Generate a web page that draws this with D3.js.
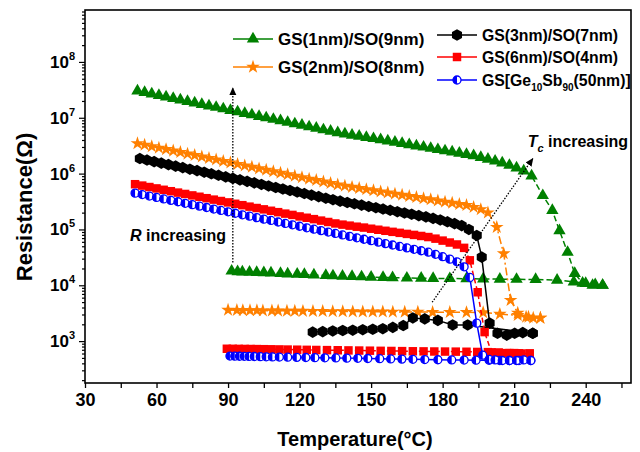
<!DOCTYPE html>
<html>
<head>
<meta charset="utf-8">
<script src="https://cdn.jsdelivr.net/npm/d3@7"></script>
<style>
  body { margin: 0; background: #fff; }
  svg text { font-family: "Liberation Sans", Arial, sans-serif; font-weight: bold; }
</style>
</head>
<body>
<div id="chart"></div>
<script>
// axis ticks
var tempTicks = [30, 60, 90, 120, 150, 180, 210, 240];
var tempMinor = [45, 75, 105, 135, 165, 195, 225, 255];
var resTicks = [1e3, 1e4, 1e5, 1e6, 1e7, 1e8];

// GS(1nm)/SO(9nm)
var g1HeatT = [52,55,58,61,64,67,70,73,76,79,82,85,88,91,94,97,100,103,106,109,112,115,118,121,124,127,130,133,136,139,142,145,148,151,154,157,160,163,166,169,172,175,178,181,184,187,190,193,196,199,202,205,208,211,214,217.3,222,226,229,232.4,235.4,238.7,242.9,247.1];
var g1HeatR = [3.02e7,2.84e7,2.67e7,2.51e7,2.36e7,2.22e7,2.09e7,1.96e7,1.85e7,1.74e7,1.63e7,1.54e7,1.45e7,1.36e7,1.28e7,1.2e7,1.13e7,1.06e7,1.0e7,9.4e6,8.85e6,8.3e6,7.8e6,7.35e6,6.9e6,6.5e6,6.1e6,5.75e6,5.4e6,5.15e6,4.9e6,4.68e6,4.46e6,4.25e6,4.05e6,3.85e6,3.66e6,3.48e6,3.3e6,3.14e6,2.99e6,2.84e6,2.7e6,2.56e6,2.44e6,2.32e6,2.2e6,2.09e6,1.95e6,1.82e6,1.68e6,1.55e6,1.41e6,1.26e6,1.12e6,9.1e5,4.05e5,2.2e5,9.5e4,3.9e4,1.63e4,1.09e4,1.0e4,1.0e4];
var g1CoolT = [91.5,94,96,99,102,105,108,112,115,119,122,126,131,134,138,142,146,150,155,159,165,171,176,183,190,197,204,211,219,228,235,240,244,247.1];
var g1CoolR = [1.8e4,1.76e4,1.74e4,1.72e4,1.7e4,1.68e4,1.66e4,1.63e4,1.6e4,1.58e4,1.56e4,1.53e4,1.5e4,1.48e4,1.46e4,1.44e4,1.42e4,1.4e4,1.38e4,1.37e4,1.35e4,1.34e4,1.33e4,1.32e4,1.31e4,1.3e4,1.29e4,1.28e4,1.27e4,1.24e4,1.15e4,1.08e4,1.03e4,1.0e4];

// GS(2nm)/SO(8nm)
var g2HeatT = [52,55,58,61,64,67,70,73,76,79,82,85,88,91,94,97,100,103,106,109,112,115,118,121,124,127,130,133,136,139,142,145,148,151,154,157,160,163,166,169,172,175,178,181,184,187,190,193,196,199,202.7,205.6,208.5,211.5,215,218,221];
var g2HeatR = [3.47e6,3.27e6,3.07e6,2.89e6,2.72e6,2.56e6,2.41e6,2.26e6,2.13e6,2.0e6,1.89e6,1.78e6,1.67e6,1.57e6,1.48e6,1.39e6,1.31e6,1.23e6,1.16e6,1.09e6,1.03e6,9.68e5,9.1e5,8.57e5,8.05e5,7.59e5,7.14e5,6.71e5,6.31e5,6.03e5,5.74e5,5.48e5,5.22e5,4.99e5,4.76e5,4.54e5,4.34e5,4.13e5,3.94e5,3.77e5,3.59e5,3.43e5,3.27e5,3.12e5,2.98e5,2.84e5,2.71e5,2.51e5,2.29e5,2.0e5,1.1e5,3.7e4,5.4e3,3.2e3,2.7e3,2.6e3,2.6e3];
var g2CoolT = [90,93.7,96.2,99.2,102.1,104.6,108.4,111,114.7,118,121.4,125.6,129.7,133.9,138.1,142.3,146.5,150.7,154.9,159.1,164.1,169.6,175.8,183,190,197,204,211.5,216,221];
var g2CoolR = [3.6e3,3.58e3,3.56e3,3.55e3,3.54e3,3.52e3,3.5e3,3.49e3,3.48e3,3.46e3,3.45e3,3.44e3,3.42e3,3.41e3,3.4e3,3.38e3,3.37e3,3.36e3,3.35e3,3.34e3,3.33e3,3.32e3,3.3e3,3.3e3,3.28e3,3.25e3,3.05e3,2.9e3,2.7e3,2.6e3];

// GS(3nm)/SO(7nm)
var g3HeatT = [53,56,59,62,65,68,71,74,77,80,83,86,89,92,95,98,101,104,107,110,113,116,119,122,125,128,131,134,137,140,143,146,149,152,155,158,161,164,167,170,173,176,179,182,185,188,191,194.3,196.4,199.7,203,206.9,210.2,213.6,217.8];
var g3HeatR = [1.86e6,1.75e6,1.64e6,1.54e6,1.45e6,1.36e6,1.28e6,1.2e6,1.13e6,1.06e6,9.93e5,9.33e5,8.75e5,8.22e5,7.73e5,7.26e5,6.81e5,6.4e5,6.01e5,5.64e5,5.3e5,4.98e5,4.67e5,4.39e5,4.12e5,3.87e5,3.63e5,3.41e5,3.21e5,3.04e5,2.88e5,2.73e5,2.58e5,2.45e5,2.32e5,2.2e5,2.08e5,1.97e5,1.87e5,1.77e5,1.68e5,1.58e5,1.48e5,1.37e5,1.27e5,1.17e5,1.0e5,7.8e4,3.2e4,2.1e3,1.38e3,1.28e3,1.38e3,1.42e3,1.38e3];
var g3CoolT = [125.5,129.7,133.9,138.1,142.3,146.5,150.7,154.9,159.1,163.5,167.5,172.5,178,184.2,190.5,217.8];
var g3CoolR = [1.45e3,1.48e3,1.52e3,1.55e3,1.57e3,1.6e3,1.63e3,1.67e3,1.76e3,1.9e3,2.6e3,2.5e3,2.35e3,1.95e3,1.95e3,1.38e3];

// GS(6nm)/SO(4nm)
var g6HeatT = [51,54,57,60,63,66,69,72,75,78,81,84,87,90,93,96,99,102,105,108,111,114,117,120,123,126,129,132,135,138,141,144,147,150,153,156,159,162,165,168,171,174,177,180,183,186,189,191.4,194.7,197.6,200.5,203.5,207,210,213,216.5];
var g6HeatR = [6.46e5,6.1e5,5.75e5,5.43e5,5.13e5,4.84e5,4.57e5,4.32e5,4.07e5,3.85e5,3.63e5,3.42e5,3.23e5,3.05e5,2.88e5,2.72e5,2.56e5,2.42e5,2.29e5,2.16e5,2.04e5,1.92e5,1.82e5,1.71e5,1.62e5,1.53e5,1.44e5,1.36e5,1.28e5,1.22e5,1.17e5,1.12e5,1.08e5,1.03e5,9.88e4,9.46e4,9.06e4,8.69e4,8.32e4,7.98e4,7.64e4,7.31e4,6.84e4,6.31e4,5.83e4,5.38e4,4.68e4,2.8e4,7.5e3,1.45e3,6.3e2,6.2e2,6.1e2,6.1e2,6.0e2,6.0e2];
var g6CoolT = [89.5,92,94.5,97,99.5,102,105,108,111.5,115,119,123,127,131.5,136,140.5,145,149.5,154,158.5,163,167.5,172,176.5,181,185.5,190,194.5,199,203.5,208,212,216.5];
var g6CoolR = [7.3e2,7.28e2,7.26e2,7.24e2,7.22e2,7.2e2,7.17e2,7.14e2,7.1e2,7.06e2,7.02e2,6.98e2,6.94e2,6.9e2,6.86e2,6.82e2,6.78e2,6.74e2,6.7e2,6.66e2,6.62e2,6.58e2,6.55e2,6.52e2,6.5e2,6.48e2,6.45e2,6.4e2,6.35e2,6.2e2,6.1e2,6.05e2,6.0e2];

// GS[Ge10Sb90(50nm)]
var g50HeatT = [51,54,57,60,63,66,69,72,75,78,81,84,87,90,93,96,99,102,105,108,111,114,117,120,123,126,129,132,135,138,141,144,147,150,153,156,159,162,165,168,171,174,177,180,183,186,189,191.4,194.3,196.8,199.5,202,205,208,211,214,217];
var g50HeatR = [4.47e5,4.21e5,3.96e5,3.74e5,3.52e5,3.32e5,3.13e5,2.94e5,2.78e5,2.62e5,2.47e5,2.32e5,2.19e5,2.07e5,1.95e5,1.83e5,1.73e5,1.63e5,1.53e5,1.45e5,1.36e5,1.28e5,1.21e5,1.14e5,1.07e5,1.01e5,9.53e4,8.98e4,8.47e4,7.98e4,7.52e4,7.08e4,6.67e4,6.29e4,5.93e4,5.58e4,5.26e4,4.96e4,4.68e4,4.41e4,4.15e4,3.91e4,3.59e4,3.25e4,2.94e4,2.63e4,2.14e4,1.38e4,2.1e3,5.6e2,4.7e2,4.6e2,4.5e2,4.5e2,4.5e2,4.6e2,4.5e2];
var g50CoolT = [90.8,92.8,94.8,96.8,98.8,101,103.5,106,108.6,111.5,115,118.8,122.6,126.4,130.6,135.2,139.8,144.4,148.6,153.6,158.2,162.9,167.5,172.5,178,183.8,189,194,199.5,204,208,212,217];
var g50CoolR = [5.4e2,5.38e2,5.36e2,5.34e2,5.32e2,5.3e2,5.27e2,5.24e2,5.21e2,5.18e2,5.15e2,5.12e2,5.09e2,5.06e2,5.03e2,5.0e2,4.96e2,4.92e2,4.88e2,4.84e2,4.8e2,4.76e2,4.72e2,4.68e2,4.64e2,4.6e2,4.58e2,4.56e2,4.54e2,4.5e2,4.5e2,4.5e2,4.5e2];

var legendNames = ["GS(1nm)/SO(9nm)", "GS(2nm)/SO(8nm)", "GS(3nm)/SO(7nm)", "GS(6nm)/SO(4nm)", "GS[Ge_{10}Sb_{90}(50nm)]"];

var w = 640, h = 452;
var margin = {top: 10, right: 9, bottom: 69, left: 85};

var x = d3.scaleLinear().domain([30, 259]).range([margin.left, w - margin.right]);
var y = d3.scaleLog().domain([Math.pow(10, 2.25), Math.pow(10, 8.93)]).range([h - margin.bottom, margin.top]);

function pairs(ts, rs) {
  var n = Math.min(ts.length, rs.length);
  var out = [];
  for (var i = 0; i < n; i++) out.push([ts[i], rs[i]]);
  return out;
}

var series = [
  {name: legendNames[0], heat: pairs(g1HeatT, g1HeatR), cool: pairs(g1CoolT, g1CoolR), color: "#008000", shape: "triangle", dash: "6,3"},
  {name: legendNames[1], heat: pairs(g2HeatT, g2HeatR), cool: pairs(g2CoolT, g2CoolR), color: "#ff8000", shape: "star", dash: "8,3,2,3"},
  {name: legendNames[2], heat: pairs(g3HeatT, g3HeatR), cool: pairs(g3CoolT, g3CoolR), color: "#000000", shape: "hexagon", dash: null},
  {name: legendNames[3], heat: pairs(g6HeatT, g6HeatR), cool: pairs(g6CoolT, g6CoolR), color: "#ff0000", shape: "square", dash: "5,3"},
  {name: legendNames[4], heat: pairs(g50HeatT, g50HeatR), cool: pairs(g50CoolT, g50CoolR), color: "#0000ff", shape: "halfcircle", dash: null}
];

var svg = d3.select("#chart").append("svg")
  .attr("width", w)
  .attr("height", h);

svg.append("rect").attr("width", w).attr("height", h).attr("fill", "#fff");

var defs = svg.append("defs");
defs.append("marker")
  .attr("id", "arrow")
  .attr("viewBox", "0 0 10 10")
  .attr("refX", 9).attr("refY", 5)
  .attr("markerUnits", "userSpaceOnUse")
  .attr("markerWidth", 8).attr("markerHeight", 8)
  .attr("orient", "auto")
  .append("path")
  .attr("d", "M0,0.5 L10,5 L0,9.5 Z")
  .attr("fill", "#000");

function hexPath(r) {
  var pts = [];
  for (var k = 0; k < 6; k++) {
    var a = Math.PI / 180 * (-90 + 60 * k);
    pts.push([r * Math.cos(a), r * Math.sin(a)]);
  }
  return "M" + pts.map(function(p) { return p[0].toFixed(2) + "," + p[1].toFixed(2); }).join("L") + "Z";
}

function drawMarker(g, shape, color) {
  if (shape == "triangle") {
    g.append("path").attr("d", d3.symbol().type(d3.symbolTriangle).size(66)()).attr("fill", color);
  } else if (shape == "star") {
    g.append("path").attr("d", d3.symbol().type(d3.symbolStar).size(58)()).attr("fill", color);
  } else if (shape == "hexagon") {
    g.append("path").attr("d", hexPath(5.8)).attr("fill", color);
  } else if (shape == "square") {
    g.append("path").attr("d", d3.symbol().type(d3.symbolSquare).size(72)()).attr("fill", color);
  } else if (shape == "halfcircle") {
    g.append("circle").attr("r", 4).attr("fill", "#fff").attr("stroke", color).attr("stroke-width", 1.3);
    g.append("path").attr("d", "M0,-4 A4,4 0 0 0 0,4 Z").attr("fill", color);
  }
}

// axes
var xAxisG = svg.append("g")
  .attr("transform", "translate(0," + (h - margin.bottom) + ")");
xAxisG.call(d3.axisBottom(x).tickValues(tempMinor).tickSize(5).tickFormat(""));
xAxisG.append("g").call(d3.axisBottom(x).tickValues(tempTicks).tickSize(5).tickPadding(5).tickFormat(d3.format("d")));
xAxisG.selectAll(".domain").remove();
xAxisG.selectAll("line").attr("stroke", "#000").attr("stroke-width", 1.3);
xAxisG.selectAll("text")
  .attr("fill", "#000")
  .style("font-size", "18px");

var yMinor = [];
for (var k = 2; k <= 8; k++) {
  for (var m = 2; m <= 9; m++) {
    var v = m * Math.pow(10, k);
    if (v >= y.domain()[0] && v <= y.domain()[1]) yMinor.push(v);
  }
}

var yAxisG = svg.append("g").attr("transform", "translate(" + margin.left + ",0)");
yAxisG.call(d3.axisLeft(y).tickValues(yMinor).tickSize(3).tickFormat(""));
yAxisG.append("g").call(d3.axisLeft(y).tickValues(resTicks).tickSize(6).tickFormat(""));
yAxisG.selectAll(".domain").remove();
yAxisG.selectAll("line").attr("stroke", "#000").attr("stroke-width", 1.2);

resTicks.forEach(function(t) {
  var label = svg.append("text")
    .attr("x", margin.left - 10)
    .attr("y", y(t) + 6)
    .attr("text-anchor", "end")
    .attr("fill", "#000");
  label.append("tspan").style("font-size", "17px").text("10");
  label.append("tspan").style("font-size", "11px").attr("dy", -8).text(Math.round(Math.log10(t)));
});

// frame
svg.append("rect")
  .attr("x", margin.left)
  .attr("y", margin.top)
  .attr("width", w - margin.left - margin.right)
  .attr("height", h - margin.top - margin.bottom)
  .attr("fill", "none")
  .attr("stroke", "#000")
  .attr("stroke-width", 1.6);

// axis titles
svg.append("text")
  .attr("x", (margin.left + w - margin.right) / 2 - 3)
  .attr("y", 446)
  .attr("text-anchor", "middle")
  .style("font-size", "20px")
  .text("Temperature(\u00B0C)");

svg.append("text")
  .attr("transform", "translate(32,207) rotate(-90)")
  .attr("text-anchor", "middle")
  .style("font-size", "22px")
  .text("Resistance(\u03A9)");

// curves
var line = d3.line()
  .x(function(d) { return x(d[0]); })
  .y(function(d) { return y(d[1]); });

var plot = svg.append("g");

series.forEach(function(s) {
  plot.append("path")
    .datum(s.heat)
    .attr("d", line)
    .attr("fill", "none")
    .attr("stroke", s.color)
    .attr("stroke-width", 1.5)
    .attr("stroke-dasharray", s.dash);
  plot.append("path")
    .datum(s.cool)
    .attr("d", line)
    .attr("fill", "none")
    .attr("stroke", s.color)
    .attr("stroke-width", 1.5)
    .attr("stroke-dasharray", s.dash);

  s.cool.concat(s.heat).forEach(function(d) {
    var g = plot.append("g").attr("transform", "translate(" + x(d[0]) + "," + y(d[1]) + ")");
    drawMarker(g, s.shape, s.color);
  });
});

// annotations: arrows
var arrowR = {t: 92, from: 2.57e4, to: 3.4e7};
var arrowTc = {t1: 175.6, r1: 4.97e3, t2: 217.8, r2: 1.85e6};

svg.append("line")
  .attr("x1", x(arrowR.t)).attr("y1", y(arrowR.from))
  .attr("x2", x(arrowR.t)).attr("y2", y(arrowR.to))
  .attr("stroke", "#000")
  .attr("stroke-width", 1.3)
  .attr("stroke-dasharray", "1.5,1.5")
  .attr("marker-end", "url(#arrow)");

svg.append("line")
  .attr("x1", x(arrowTc.t1)).attr("y1", y(arrowTc.r1))
  .attr("x2", x(arrowTc.t2)).attr("y2", y(arrowTc.r2))
  .attr("stroke", "#000")
  .attr("stroke-width", 1.3)
  .attr("stroke-dasharray", "1.5,1.5")
  .attr("marker-end", "url(#arrow)");

var rText = svg.append("text")
  .attr("x", x(48.9))
  .attr("y", y(6.3e4))
  .style("font-size", "16px");
rText.append("tspan").style("font-style", "italic").text("R");
rText.append("tspan").text(" increasing");

var tcText = svg.append("text")
  .attr("x", x(215.7))
  .attr("y", y(3.0e6))
  .style("font-size", "16px");
tcText.append("tspan").style("font-style", "italic").text("T");
tcText.append("tspan").style("font-style", "italic").style("font-size", "11px").attr("dy", 5).text("c");
tcText.append("tspan").attr("dy", -5).text(" increasing");

// legend
var legendPos = [
  {x: 233, y: 39, size: 17},
  {x: 233, y: 67, size: 17},
  {x: 437, y: 35, size: 15.8},
  {x: 437, y: 57, size: 15.8},
  {x: 437, y: 80, size: 15.8}
];

series.forEach(function(s, i) {
  var p = legendPos[i];
  var lg = svg.append("g").attr("transform", "translate(" + p.x + "," + p.y + ")");
  lg.append("line").attr("x1", 0).attr("x2", 40).attr("y1", 0).attr("y2", 0)
    .attr("stroke", s.color).attr("stroke-width", 1.5);
  var mg = lg.append("g").attr("transform", "translate(20,0)");
  drawMarker(mg, s.shape, s.color);
  var txt = lg.append("text").attr("x", 45).attr("y", 6).style("font-size", p.size + "px");
  var parts = s.name.split(/_\{|\}/);
  parts.forEach(function(part, j) {
    if (part === "") return;
    if (j % 2 == 1) {
      txt.append("tspan").style("font-size", "10px").attr("dy", 5).text(part);
    } else {
      var t = txt.append("tspan").text(part);
      if (j > 0) t.attr("dy", -5);
    }
  });
});
</script>
</body>
</html>
